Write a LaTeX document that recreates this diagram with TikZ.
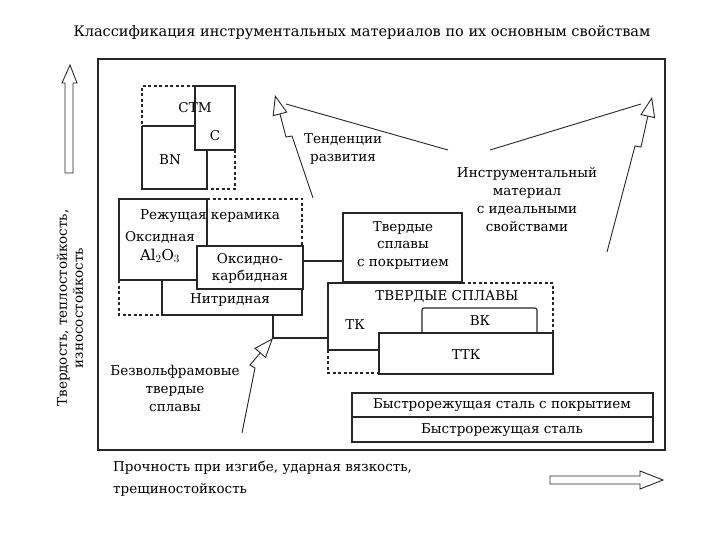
\documentclass[tikz,border=0pt]{standalone}
\usepackage{fontspec}
\setmainfont{DejaVu Serif}
\usetikzlibrary{arrows.meta}
\begin{document}
\begin{tikzpicture}[x=1pt,y=-1pt,
  ln/.style={line width=1.1pt,black!85},
  dsh/.style={line width=1.1pt,black!85,dash pattern=on 3pt off 2.5pt},
  lb/.style={font=\fontsize{13.5}{14}\selectfont,inner sep=0pt,anchor=center},
  harr/.style={line width=0.9pt,black!85,-{Triangle[open,length=20pt,width=15pt,line width=0.9pt]}},
  thin/.style={line width=0.9pt,black!85}]
\useasboundingbox (0,0) rectangle (720,540);
\fill[white] (0,0) rectangle (720,540);
% title
\node[lb,font=\fontsize{14.5}{15}\selectfont] (title) at (362,33) {Классификация инструментальных материалов по их основным свойствам};
% frame
\draw[ln] (98,59) rectangle (665,450);
% axes arrows
\draw[thin] (65,173) -- (65,83) -- (62,83) -- (70,65) -- (77,83) -- (73,83) -- (73,173) -- cycle;
\draw[thin] (550,476) -- (640,476) -- (640,471) -- (663,480) -- (640,489) -- (640,484) -- (550,484) -- cycle;
\node[lb,rotate=90,align=center,font=\fontsize{13.5}{16}\selectfont] (ylab) at (70,308) {Твердость, теплостойкость,\\износостойкость};
\node[lb,align=left,anchor=north west,font=\fontsize{13.5}{22}\selectfont] (xlab) at (113,461) {Прочность при изгибе, ударная вязкость,\\трещиностойкость};
% СТМ group
\draw[dsh] (195,86) -- (142,86) -- (142,126);
\draw[dsh] (235,150) -- (235,189) -- (207,189);
\draw[ln] (195,86) rectangle (235,150);
\draw[ln] (142,126) -- (195,126);
\draw[ln] (142,126) -- (142,189) -- (207,189) -- (207,150);
\node[lb] (ctm) at (195,108) {СТМ};
\node[lb] (c) at (215,136) {С};
\node[lb] (bn) at (170,160) {ВN};
% ceramics group
\draw[ln] (207,246) -- (207,199) -- (119,199) -- (119,280) -- (162,280);
\draw[dsh] (207,199) -- (302,199) -- (302,246);
\draw[dsh] (119,280) -- (119,315) -- (162,315);
\draw[ln] (162,280) rectangle (302,315);
\draw[ln,fill=white] (197,246) rectangle (303,289);
\node[lb] (cer) at (210,216) {Режущая керамика};
\node[lb] (ox) at (160,237) {Оксидная};
\node[lb,font=\fontsize{15}{16}\selectfont] (al) at (160,256) {Al$_2$O$_3$};
\node[lb,align=center,font=\fontsize{13.5}{17}\selectfont] (oxk) at (250,268) {Оксидно-\\карбидная};
\node[lb] (nit) at (230,300) {Нитридная};
% coated hard alloys
\draw[ln] (343,213) rectangle (462,282);
\node[lb,align=center,font=\fontsize{13.5}{17.5}\selectfont] (tsp) at (403,245) {Твердые\\сплавы\\с покрытием};
\draw[ln] (303,261) -- (343,261);
% hard alloys group
\draw[ln] (328,350) -- (328,283) -- (462,283);
\draw[dsh] (462,283) -- (553,283) -- (553,333);
\draw[dsh] (328,350) -- (328,373) -- (379,373);
\draw[ln] (328,350) -- (379,350);
\draw[ln,rounded corners=2pt] (422,333) -- (422,308) -- (537,308) -- (537,333);
\draw[ln] (379,333) rectangle (553,374);
\node[lb] (ts) at (447,297) {ТВЕРДЫЕ СПЛАВЫ};
\node[lb] (tk) at (355,325) {ТК};
\node[lb] (vk) at (480,321) {ВК};
\node[lb] (ttk) at (466,355) {ТТК};
% connector nitride -> hard alloys
\coordinate (j) at (273,338);
\draw[ln] (273,315) -- (j) -- (328,338);
% HSS
\draw[ln] (352,393) rectangle (653,442);
\draw[ln] (352,417) -- (653,417);
\node[lb] (hssc) at (502,405) {Быстрорежущая сталь с покрытием};
\node[lb] (hss) at (502,430) {Быстрорежущая сталь};
% labels
\node[lb,align=center,font=\fontsize{13.5}{18}\selectfont] (bw) at (175,388) {Безвольфрамовые\\твердые\\сплавы};
\node[lb,align=center,font=\fontsize{13.5}{18}\selectfont] (tend) at (343,149) {Тенденции\\развития};
\node[lb,align=center,font=\fontsize{13.5}{18}\selectfont] (ideal) at (527,200) {Инструментальный\\материал\\с идеальными\\свойствами};
% lightning arrows
\coordinate (t1) at (242,433);
\coordinate (t2) at (313,198);
\coordinate (tip2) at (275,95);
\coordinate (t3) at (448,150);
\coordinate (t4) at (490,150);
\coordinate (t5) at (607,252);
\coordinate (tip3) at (652,97);
\draw[thin] (t3) -- (286,104);
\draw[thin] (t4) -- (641,104);
\draw[harr] (t1) -- (255,368) -- (250,365) -- (j);
\draw[harr] (t2) -- (292,136) -- (286,137) -- (tip2);
\draw[harr] (t5) -- (635,146) -- (641,147) -- (tip3);
\end{tikzpicture}
\end{document}
